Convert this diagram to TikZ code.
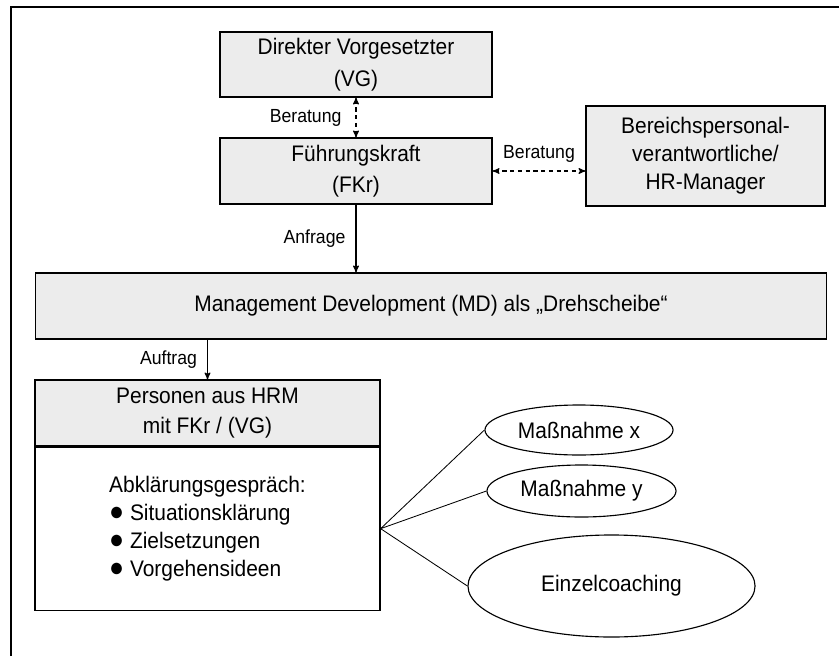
\documentclass[tikz,border=0pt]{standalone}
\usepackage{fontspec}
\setmainfont{Liberation Sans}[FakeStretch=0.93]
\usetikzlibrary{arrows,positioning,shapes.geometric}
\newcommand{\punkt}{{\fontsize{19}{19}\selectfont●}}
\tikzset{
    %Define standard arrow tip
    >=stealth',
    %Define style for boxes
    kasten/.style={
           rectangle,
           draw=black, line width=0.8pt,
           fill=gray!15,
           inner sep=0pt,
           align=center,
           font=\fontsize{16}{22.5}\selectfont},
    % Define style for the ellipses
    massnahme/.style={ellipse,draw=black,line width=0.8pt,inner sep=0pt,font=\fontsize{16}{22}\selectfont},
    % Define arrow styles
    pfeil/.style={
           ->,
           line width=0.8pt},
    beratung/.style={
           <->,
           line width=0.8pt,
           dash pattern=on 3pt off 2.5pt},
    etikett/.style={font=\fontsize{13.5}{16}\selectfont,inner sep=0pt}
}

\begin{document}
\begin{tikzpicture}[x=0.025cm,y=-0.025cm]
  \useasboundingbox (0,0) rectangle (839,656);
  % frame
  \draw[line width=0.8pt] (11,656) -- (11,7) -- (839,7);
  % boxes
  \node[kasten, minimum width=6.8cm, minimum height=1.625cm] (vg) at (356,64.5) {Direkter Vorgesetzter\\(VG)};
  \node[kasten, minimum width=6.8cm, minimum height=1.65cm] (fkr) at (356,171) {Führungskraft\\(FKr)};
  \node[kasten, minimum width=5.975cm, minimum height=2.5cm, font=\fontsize{16}{20}\selectfont] (hrm) at (705.5,156) {Bereichspersonal-\\verantwortliche/\\HR-Manager};
  \node[kasten, minimum width=19.75cm, minimum height=1.65cm] (md) at (431,306) {Management Development (MD) als „Drehscheibe“};
  \node[kasten, minimum width=8.625cm, minimum height=1.65cm, font=\fontsize{16}{21.5}\selectfont] (pers) at (207.5,413) {Personen aus HRM\\mit FKr / (VG)};
  \node[kasten, fill=white, minimum width=8.625cm, minimum height=4.075cm, below=0pt of pers] (gespr) {};
  \node[align=left, inner sep=0pt, font=\fontsize{16}{19.8}\selectfont] (liste) at (gespr.center) {Abklärungsgespräch:\\\punkt{} Situationsklärung\\\punkt{} Zielsetzungen\\\punkt{} Vorgehensideen};
  % measures
  \node[massnahme, minimum width=4.7cm, minimum height=1.25cm] (mx) at (579,430) {Maßnahme x};
  \node[massnahme, minimum width=4.725cm, minimum height=1.3cm] (my) at (581.5,491) {Maßnahme y};
  \node[massnahme, minimum width=7.175cm, minimum height=2.55cm] (ez) at (611.5,586) {Einzelcoaching};
  % connections
  \draw[beratung] (vg.south) -- node[etikett, left=0.35cm] {Beratung} (fkr.north);
  \draw[beratung] (fkr.east) -- node[etikett, above=0.2cm] {Beratung} (fkr.east -| hrm.west);
  \draw[pfeil] (fkr.south) -- node[etikett, left=0.25cm] {Anfrage} (fkr.south |- md.north);
  \draw[pfeil] (md.south -| pers.north) -- node[etikett, left=0.25cm] {Auftrag} (pers.north);
  \draw[line width=0.6pt] (mx.west) -- (gespr.east) -- (my.west);
  \draw[line width=0.6pt] (gespr.east) -- (ez.west);
\end{tikzpicture}
\end{document}
